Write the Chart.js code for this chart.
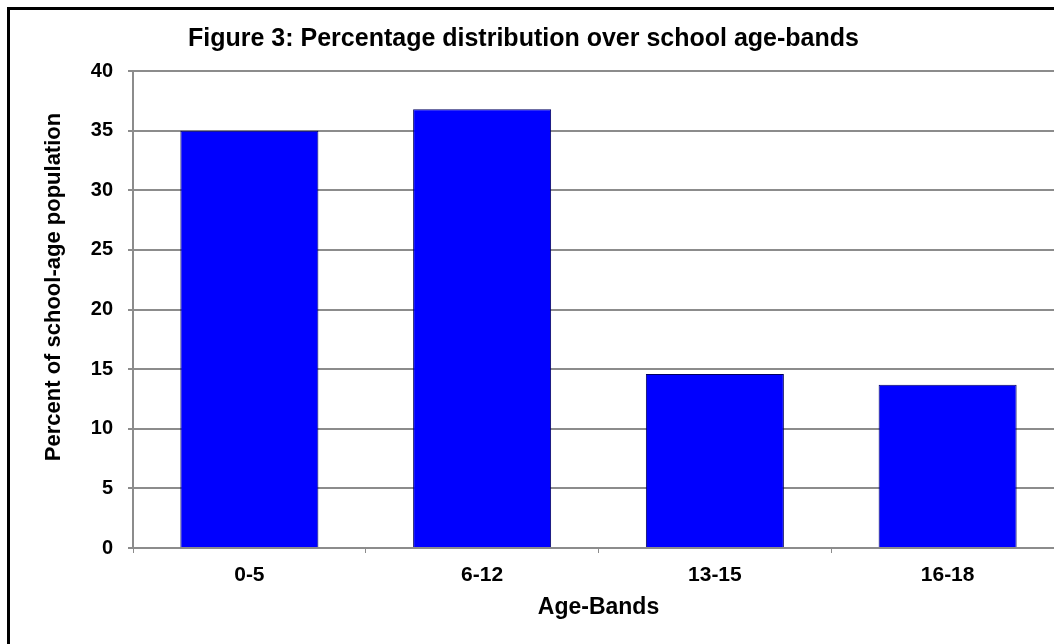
<!DOCTYPE html>
<html>
<head>
<meta charset="utf-8">
<script src="https://cdn.jsdelivr.net/npm/chart.js@4.4.1/dist/chart.umd.min.js"></script>
<style>
  html, body { margin: 0; padding: 0; background: #ffffff; }
  #viewport { position: relative; width: 1054px; height: 644px; overflow: hidden; background: #ffffff; }
  #wrap { position: absolute; left: 0; top: 0; width: 1100px; height: 660px; }
  #frame { position: absolute; left: 7px; top: 7px; width: 1200px; height: 800px; border: 3px solid #000; pointer-events: none; }
</style>
</head>
<body>
<div id="viewport">
  <div id="wrap"><canvas id="chart" width="1100" height="660"></canvas></div>
  <div id="frame"></div>
</div>
<script>
// Age bands and their share of the school-age population (%)
const categories = ['0-5', '6-12', '13-15', '16-18'];
const percentValues = [35.0, 36.8, 14.6, 13.7];
const yTickValues = [0, 5, 10, 15, 20, 25, 30, 35, 40];

const chartTitle = 'Figure 3: Percentage distribution over school age-bands';
const yAxisTitle = 'Percent of school-age population';
const xAxisTitle = 'Age-Bands';

const FONT = '"Liberation Sans", Arial, Helvetica, sans-serif';
const GRID = '#8c8c8c';

// Draws the heading and the rotated y-axis caption
const captionPlugin = {
  id: 'captions',
  afterDraw(chart) {
    const ctx = chart.ctx;
    ctx.save();
    ctx.fillStyle = '#000';
    ctx.font = 'bold 25px ' + FONT;
    ctx.textAlign = 'left';
    ctx.textBaseline = 'alphabetic';
    ctx.fillText(chartTitle, 188, 46);

    ctx.translate(60, 287);
    ctx.rotate(-Math.PI / 2);
    ctx.font = 'bold 22px ' + FONT;
    ctx.textAlign = 'center';
    ctx.fillText(yAxisTitle, 0, 0);
    ctx.restore();
  }
};

new Chart(document.getElementById('chart'), {
  type: 'bar',
  data: {
    labels: categories,
    datasets: [{
      data: percentValues,
      backgroundColor: '#0000ff',
      borderColor: '#00005e',
      borderWidth: 1,
      barPercentage: 0.593,
      categoryPercentage: 1.0
    }]
  },
  options: {
    responsive: false,
    animation: false,
    layout: { padding: { left: 0, top: 71, right: 36, bottom: 0 } },
    plugins: {
      legend: { display: false },
      title: { display: false },
      tooltip: { enabled: false }
    },
    scales: {
      x: {
        afterFit(scale) { scale.height = 112; },
        grid: {
          display: true,
          drawOnChartArea: false,
          drawTicks: true,
          tickLength: 5,
          color: GRID,
          lineWidth: 1
        },
        border: { display: true, color: GRID, width: 2 },
        ticks: {
          color: '#000',
          padding: 10,
          font: { family: FONT, size: 21, weight: 'bold' }
        },
        title: {
          display: true,
          text: xAxisTitle,
          color: '#000',
          padding: { top: 0, bottom: 39 },
          font: { family: FONT, size: 23, weight: 'bold' }
        }
      },
      y: {
        min: 0,
        max: 40,
        afterFit(scale) { scale.width = 133; },
        afterBuildTicks(scale) { scale.ticks = yTickValues.map(v => ({ value: v })); },
        grid: {
          color: GRID,
          lineWidth: 2,
          tickLength: 5
        },
        border: { display: true, color: GRID, width: 2 },
        ticks: {
          color: '#000',
          padding: 15,
          font: { family: FONT, size: 20, weight: 'bold' }
        }
      }
    }
  },
  plugins: [captionPlugin]
});
</script>
</body>
</html>
